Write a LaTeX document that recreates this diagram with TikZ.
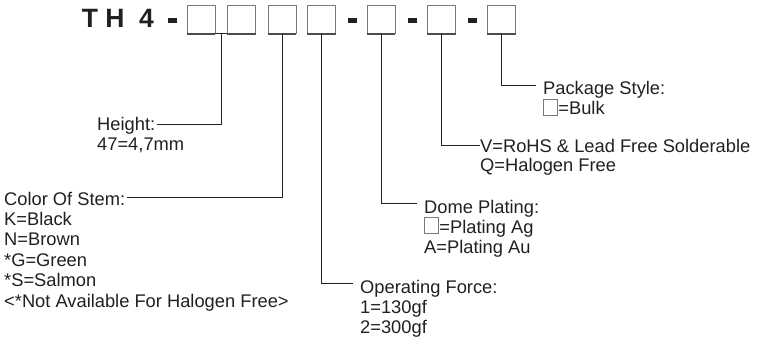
\documentclass[tikz,border=0pt]{standalone}
\usepackage{fontspec}
\setmainfont{Liberation Sans}
\usetikzlibrary{calc}
\definecolor{ink}{HTML}{231F20}
\definecolor{sqgray}{HTML}{7A7A7A}
\definecolor{boxdark}{HTML}{4D4D4D}
\newcommand\sqglyph{{\color{sqgray}\setlength{\fboxrule}{0.7pt}\setlength{\fboxsep}{0pt}\fbox{\rule{0pt}{15pt}\hspace{13pt}}}\hspace{0.8pt}}
\begin{document}
\begin{tikzpicture}[x=1pt,y=-1pt,
  lbl/.style={anchor=base west, inner sep=0pt, font=\fontsize{18.3}{20}\selectfont, text=ink},
  ttl/.style={anchor=base, inner sep=0pt, font=\fontsize{26.5}{30}\selectfont\bfseries, text=ink},
  digit/.style={draw=sqgray, line width=0.8pt, minimum width=28pt, minimum height=28pt, inner sep=0pt},
  bar/.style={fill=ink, minimum width=9pt, minimum height=4.3pt, inner sep=0pt},
  conn/.style={draw=ink, line width=0.9pt},
  baseedge/.style={draw=boxdark, line width=1.8pt}]
\useasboundingbox (0,0) rectangle (760,343);
% title
\node[ttl] (tT) at (90,27) {T};
\node[ttl] (tH) at (115,27) {H};
\node[ttl] (t4) at (146.5,27) {4};
\node[bar] (d0) at (172.5,20.5) {};
\node[digit] (b1) at (201,19.3) {};
\node[digit] (b2) at (241.5,19.3) {};
\node[digit] (b3) at (282,19.3) {};
\node[digit] (b4) at (321.5,19.3) {};
\node[bar] (d1) at (352.5,20.5) {};
\node[digit] (b5) at (381,19.3) {};
\node[bar] (d2) at (412.5,20.5) {};
\node[digit] (b6) at (441.5,19.3) {};
\node[bar] (d3) at (472.5,20.5) {};
\node[digit] (b7) at (501.5,19.3) {};
\foreach \b in {b1,b2,b3,b4,b5,b6,b7}
  \draw[baseedge] (\b.south west) -- (\b.south east);
\draw[conn] (b1.south east) -- (b2.south west);
\coordinate (j12) at ($(b1.south east)!0.5!(b2.south west)$);
% labels
\node[lbl] (hgt) at (97,130.7) {Height:};
\node[lbl] (hgtv) at (97,150.5) {47=4,7mm};
\node[lbl] (stem) at (4,205) {Color Of Stem:};
\node[lbl] (stemK) at (4,225.4) {K=Black};
\node[lbl] (stemN) at (4,245.8) {N=Brown};
\node[lbl] (stemG) at (4,266.2) {*G=Green};
\node[lbl] (stemS) at (4,286.6) {*S=Salmon};
\node[lbl] (stemX) at (4,307) {<*Not Available For Halogen Free>};
\node[lbl] (force) at (360,293.3) {Operating Force:};
\node[lbl] (force1) at (360,313.3) {1=130gf};
\node[lbl] (force2) at (360,333.3) {2=300gf};
\node[lbl] (dome) at (424,213) {Dome Plating:};
\node[lbl] (dome1) at (424,233) {\sqglyph=Plating Ag};
\node[lbl] (dome2) at (424,253) {A=Plating Au};
\node[lbl] (rohs) at (480,152.3) {V=RoHS \& Lead Free Solderable};
\node[lbl] (rohsQ) at (480,171.7) {Q=Halogen Free};
\node[lbl] (pkg) at (543,94) {Package Style:};
\node[lbl] (pkg1) at (543,114.5) {\sqglyph=Bulk};
% connectors
\draw[conn] (j12) |- ([xshift=2pt,yshift=6.7pt]hgt.base east);
\draw[conn] (b3.south) |- ([xshift=2pt,yshift=8pt]stem.base east);
\draw[conn] (b4.south) |- ([xshift=-7pt,yshift=10pt]force.base west);
\draw[conn] (b5.south) |- ([xshift=-7pt,yshift=9.7pt]dome.base west);
\draw[conn] (b6.south) |- ([xshift=0pt,yshift=7.3pt]rohs.base west);
\draw[conn] (b7.south) |- ([xshift=-7pt,yshift=9pt]pkg.base west);
\end{tikzpicture}
\end{document}
